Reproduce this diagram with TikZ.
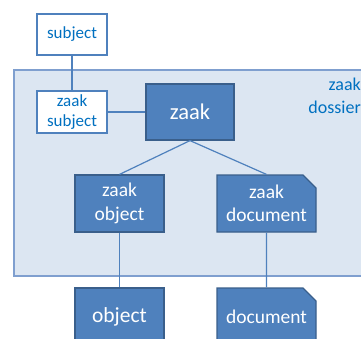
\documentclass[tikz,border=0pt]{standalone}
\usepackage{fontspec}
\setmainfont{Carlito}
\usetikzlibrary{shapes.misc}
\definecolor{boxfill}{HTML}{4F81BD}
\definecolor{boxline}{HTML}{3A5F8B}
\definecolor{contfill}{HTML}{DCE6F2}
\definecolor{contline}{HTML}{7F9FCF}
\definecolor{txtblue}{HTML}{0070C0}
\definecolor{linkcol}{HTML}{4F81BD}
\tikzset{
  whitebox/.style={draw=linkcol, fill=white, line width=1.2pt, inner sep=0pt, align=center, text=txtblue, font=\fontsize{17}{20.5}\selectfont},
  darkbox/.style={draw=boxline, fill=boxfill, line width=1.2pt, inner sep=0pt, align=center, text=white, font=\fontsize{19.5}{23.5}\selectfont},
  docbox/.style={darkbox, chamfered rectangle, chamfered rectangle corners=north east, chamfered rectangle xsep=6.5pt, chamfered rectangle ysep=6.5pt},
  link/.style={draw=linkcol, line width=1.2pt}
}
\begin{document}
\begin{tikzpicture}[x=1pt,y=-1pt]
\useasboundingbox (0,0) rectangle (361,338);
\clip (0,0) rectangle (361,338);
\draw[fill=contfill, draw=contline, line width=1.4pt] (14,70) rectangle (400,276);
\node[align=right, anchor=north east, text=txtblue, font=\fontsize{18}{23}\selectfont, inner sep=0pt] (dossier) at (361,78) {zaak\\dossier};
\node[whitebox, minimum width=70pt, minimum height=41pt] (subject) at (72,34.5) {subject};
\node[whitebox, minimum width=70pt, minimum height=42pt] (zsubject) at (72,112) {zaak\\subject};
\node[darkbox, minimum width=88pt, minimum height=56pt, font=\fontsize{22.5}{27}\selectfont] (zaak) at (190,112) {zaak};
\node[darkbox, minimum width=89pt, minimum height=57pt] (zobject) at (119.5,203.5) {zaak\\object};
\node[docbox, minimum width=99pt, minimum height=57pt] (zdoc) at (266.5,203.5) {zaak\\document};
\node[darkbox, minimum width=89pt, minimum height=58pt, font=\fontsize{21.5}{26}\selectfont] (object) at (119.5,317) {object};
\node[docbox, minimum width=99pt, minimum height=58pt] (doc) at (266.5,317) {document};
\draw[link] (subject) -- (zsubject);
\draw[link] (zsubject) -- (zaak);
\draw[link] (zaak.south) -- (zobject.north);
\draw[link] (zaak.south) -- (zdoc.north);
\draw[link] (zobject) -- (object);
\draw[link] (zdoc) -- (doc);
\end{tikzpicture}
\end{document}
